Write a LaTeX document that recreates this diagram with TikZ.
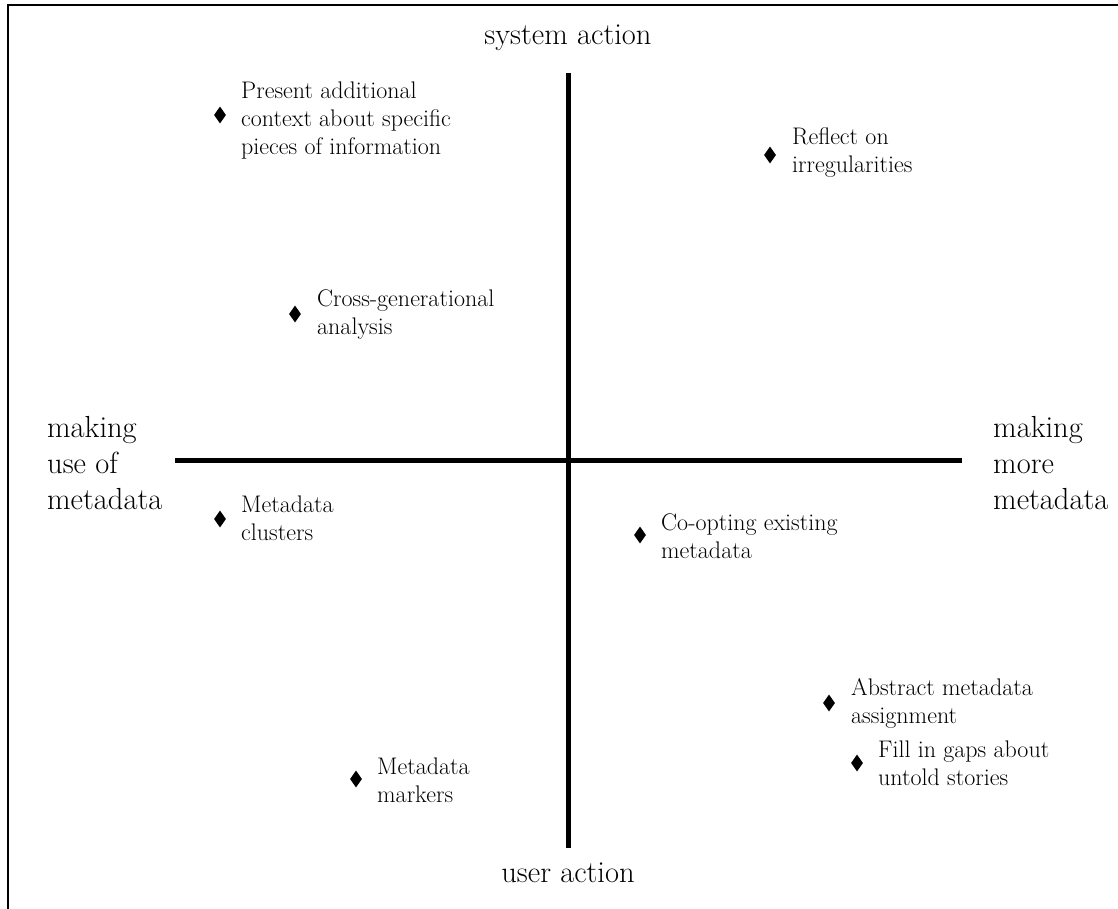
\documentclass[tikz,border=0pt]{standalone}
\usetikzlibrary{shapes.geometric}
\begin{document}
\begin{tikzpicture}[x=1pt,y=-1pt,
  axis/.style={line width=5pt},
  frameline/.style={line width=2pt},
  marker/.style={diamond,fill=black,inner sep=0pt,minimum width=12pt,minimum height=17pt},
  item/.style={anchor=west,align=left,inner sep=0pt,font=\fontsize{24}{28}\selectfont},
  pole/.style={align=left,inner sep=0pt,font=\fontsize{30.5}{36}\selectfont}]
\useasboundingbox (0,0) rectangle (1118,909);
% partial frame
\draw[frameline] (8,909) -- (8,5) -- (1118,5);
% axes
\coordinate (top) at (568,73);
\coordinate (bottom) at (568,848);
\coordinate (left) at (175,460);
\coordinate (right) at (962,460);
\draw[axis] (top) -- (bottom);
\draw[axis] (left) -- (right);
% pole labels
\node[pole,anchor=center] (sys) at (568,38) {system action};
\node[pole,anchor=center] (usr) at (568,873) {user action};
\node[pole,anchor=west] (use) at (47,463) {making\\use of\\metadata};
\node[pole,anchor=west] (more) at (993,463) {making\\more\\metadata};
% items
\node[marker] (m1) at (220,115) {};
\node[item] (t1) at (241,121) {Present additional\\context about specific\\pieces of information};
\node[marker] (m2) at (770,155) {};
\node[item] (t2) at (792,153) {Reflect on\\irregularities};
\node[marker] (m3) at (295,314) {};
\node[item] (t3) at (317,315) {Cross-generational\\analysis};
\node[marker] (m4) at (220,519) {};
\node[item] (t4) at (241,518) {Metadata\\clusters};
\node[marker] (m5) at (640,535) {};
\node[item] (t5) at (661,536) {Co-opting existing\\metadata};
\node[marker] (m6) at (829,703) {};
\node[item] (t6) at (851,703) {Abstract metadata\\assignment};
\node[marker] (m7) at (857,763) {};
\node[item] (t7) at (878,763) {Fill in gaps about\\untold stories};
\node[marker] (m8) at (356,779) {};
\node[item] (t8) at (377,780) {Metadata\\markers};
\end{tikzpicture}
\end{document}
